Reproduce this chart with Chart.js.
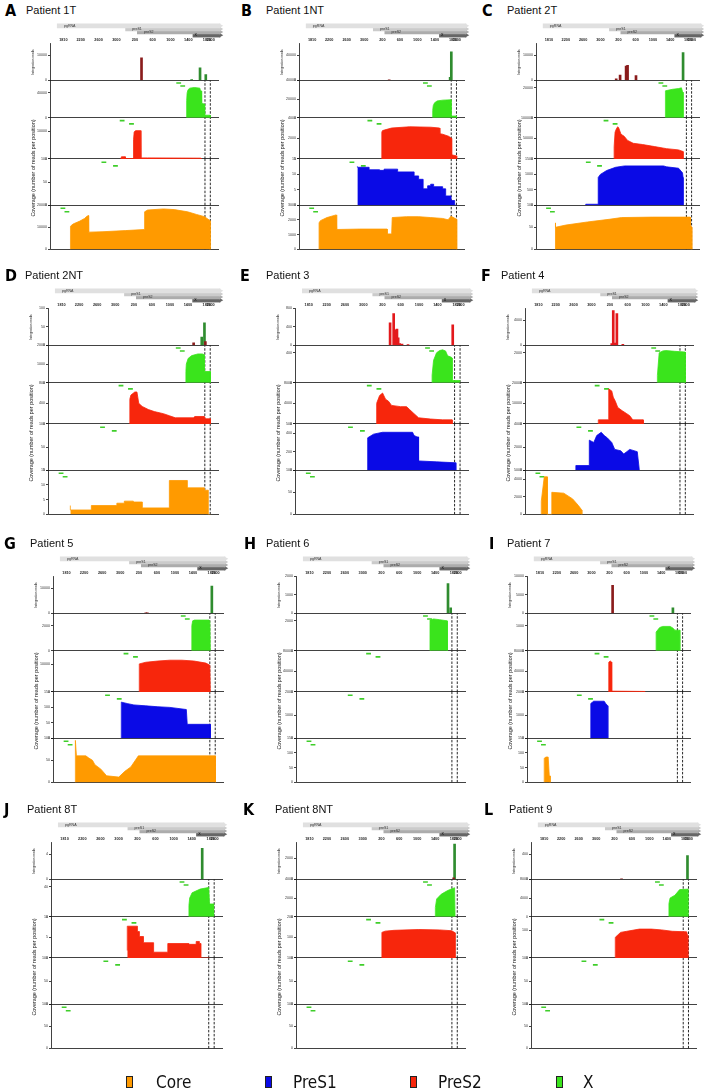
<!DOCTYPE html>
<html>
<head>
<meta charset="utf-8">
<script src="https://cdn.jsdelivr.net/npm/chart.js@4.4.1/dist/chart.umd.min.js"></script>
<style>
  body { margin: 0; background: #fff; width: 709px; height: 1091px; position: relative; overflow: hidden;
         font-family: "Liberation Sans", Arial, sans-serif; }
  .abs { position: absolute; }
  .letter { font-family: "DejaVu Sans Condensed", "Liberation Sans Narrow", sans-serif; font-weight: bold;
            font-size: 16px; line-height: 16px; color: #000; }
  .title { font-size: 11px; line-height: 12px; color: #111; white-space: nowrap; }
  .rot { white-space: nowrap; text-align: center; transform: rotate(-90deg); color: #222; }
  .lgbox { border: 1px solid #222; width: 5px; height: 10px; }
  .lgtext { font-family: "DejaVu Sans Condensed", "Liberation Sans Narrow", sans-serif; font-size: 17px; line-height: 18px; color: #111; }
</style>
</head>
<body>
<script>
// ---- map / axis (positions are nt counted along the map, starting at nt 1700) ----
const tickLabels  = ['1810', '2200', '2600', '3000', '200', '600', '1000', '1400', '1820', '1900'];
const tickOffsets = [110, 500, 900, 1300, 1715, 2115, 2515, 2915, 3335, 3415];
const mapEnd = 3415;
const dashedLines = [3290, 3410];

const headerGenes  = ['pgRNA', 'preS1', 'preS2', 'X'];
const headerStarts = [60, 1475, 1718, 2869];

const primerX     = [2700, 2790];
const primerPreS2 = [1430, 1640];
const primerPreS1 = [1020, 1280];
const primerCore  = [100, 190];

const legendLabels = ['Core', 'PreS1', 'PreS2', 'X'];
const panelLetters = ['A', 'B', 'C', 'D', 'E', 'F', 'G', 'H', 'I', 'J', 'K', 'L'];
const panelTitles  = ['Patient 1T', 'Patient 1NT', 'Patient 2T', 'Patient 2NT', 'Patient 3', 'Patient 4',
                      'Patient 5', 'Patient 6', 'Patient 7', 'Patient 8T', 'Patient 8NT', 'Patient 9'];

// ---- per patient: axis max of [integration, X, PreS2, PreS1, Core], integration bars, coverage [pos, reads] ----
const A_max = [15000, 60000, 15000, 100, 20000];
const A_intS = [[1865, 9000]];
const A_intX = [[2991, 300], [3179, 5000], [3308, 2300]];
const A_x = [[2876, 0], [2878, 28000], [2890, 40000], [2910, 45000], [2950, 47500], [3050, 48500], [3175, 47500], [3185, 44000], [3210, 43000], [3215, 23000], [3280, 22000], [3283, 4000], [3405, 4000], [3406, 0]];
const A_s2 = [[1400, 0], [1414, 800], [1500, 800], [1502, 150], [1684, 150], [1686, 7000], [1700, 9800], [1730, 10300], [1845, 10300], [1852, 400], [2000, 400], [3199, 300], [3200, 0]];
const A_s1 = [];
const A_core = [[269, 0], [270, 10500], [330, 11500], [480, 12800], [586, 14000], [640, 15000], [675, 15300], [678, 7800], [1000, 8000], [1500, 8500], [1933, 9000], [1935, 17000], [2000, 17800], [2358, 18300], [2600, 18000], [2900, 17000], [3100, 15800], [3280, 14800], [3405, 13000], [3406, 0]];

const B_max = [60000, 40000, 4000, 15, 3000];
const B_intS = [[1872, 400]];
const B_intX = [[3265, 5000], [3292, 46000]];
const B_x = [[2865, 0], [2866, 8000], [2880, 13000], [2910, 16000], [2970, 18000], [3100, 18800], [3285, 19200], [3287, 1800], [3409, 1800], [3410, 0]];
const B_s2 = [[1701, 0], [1702, 2600], [1720, 2750], [1800, 2850], [1927, 3000], [2339, 3120], [2818, 3080], [3024, 3000], [3030, 2450], [3093, 2400], [3230, 2200], [3298, 2000], [3300, 400], [3413, 300], [3415, 0]];
const B_s1 = [[1145, 12.6], [1413, 12.3], [1653, 11.5], [1756, 11.3], [2065, 11.7], [2442, 10.8], [2545, 9.5], [2648, 8.4], [2751, 5.3], [2820, 6.3], [2888, 6.8], [3094, 6], [3163, 5.3], [3286, 3], [3368, 1.5], [3415, 0]];
const B_core = [[268, 0], [269, 1800], [300, 1950], [450, 2160], [659, 2340], [672, 1350], [1200, 1380], [1825, 1380], [1826, 1050], [1928, 1050], [1941, 2160], [2271, 2220], [2550, 2220], [2819, 2160], [3094, 2100], [3217, 2010], [3286, 2250], [3414, 2040], [3415, 0]];

const C_max = [15000, 25000, 100000, 1500, 100];
const C_intS = [[1666, 600], [1756, 2100], [1895, 5700], [1929, 6000], [2124, 1950]];
const C_intX = [[3213, 11200]];
const C_x = [[2804, 0], [2805, 18000], [2970, 19000], [3109, 19500], [3175, 20000], [3200, 17500], [3213, 17000], [3214, 0]];
const C_s2 = [[1617, 0], [1618, 30000], [1640, 65000], [1666, 72000], [1700, 78000], [1721, 76000], [1777, 60000], [1850, 55000], [1929, 45000], [2060, 38000], [2276, 35000], [2554, 30000], [2832, 25000], [3110, 22000], [3213, 18000], [3214, 0]];
const C_s1 = [[958, 0], [960, 30], [1249, 30], [1250, 900], [1300, 1000], [1444, 1125], [1652, 1230], [1860, 1275], [2762, 1275], [2832, 1245], [3109, 1200], [3200, 1050], [3213, 900], [3214, 0]];
const C_core = [[250, 0], [251, 60], [265, 60], [268, 50], [500, 55], [1000, 62], [1500, 68], [1790, 72], [2500, 73], [3380, 73], [3385, 55], [3414, 50], [3415, 0]];

const D_max = [100, 2000, 800, 100, 15];
const D_intS = [[3042, 7], [3302, 10]];
const D_intX = [[3222, 22], [3282, 60]];
const D_x = [[2869, 0], [2870, 600], [2880, 1000], [2920, 1300], [3000, 1450], [3135, 1540], [3235, 1540], [3275, 1500], [3277, 600], [3414, 600], [3415, 0]];
const D_s2 = [[1624, 0], [1625, 480], [1650, 560], [1737, 620], [1784, 620], [1824, 400], [1900, 340], [2037, 280], [2170, 240], [2370, 200], [2503, 160], [2636, 120], [3036, 120], [3070, 145], [3282, 145], [3300, 100], [3414, 100], [3415, 0]];
const D_s1 = [];
const D_core = [[306, 3], [772, 1.5], [1338, 3], [1504, 3.8], [1704, 4.5], [1904, 4.2], [2503, 2.2], [2903, 11.5], [3282, 9], [3368, 8.2], [3415, 0]];

const E_max = [800, 500, 8000, 500, 100];
const E_intS = [[1884, 480], [1962, 680], [2008, 335], [2034, 350], [2060, 160], [2093, 40], [2144, 25], [2275, 15], [3250, 440]];
const E_intX = [];
const E_x = [[2799, 0], [2800, 100], [2832, 300], [2897, 400], [2962, 430], [3028, 440], [3093, 425], [3139, 360], [3224, 340], [3236, 330], [3237, 30], [3415, 30], [3416, 0]];
const E_s2 = [[1589, 0], [1590, 4000], [1655, 5500], [1720, 6000], [1785, 4800], [1850, 4400], [1916, 3600], [2112, 3360], [2243, 3360], [2309, 2800], [2407, 2000], [2505, 1200], [2766, 960], [3028, 800], [3237, 800], [3238, 0]];
const E_s1 = [[1393, 0], [1394, 350], [1524, 390], [1720, 410], [2374, 410], [2407, 375], [2472, 360], [2500, 360], [2505, 100], [2897, 90], [3316, 80], [3317, 0]];
const E_core = [];

const F_max = [6000, 2500, 20000, 4000, 5000];
const F_intS = [[1758, 300], [1792, 5600], [1826, 350], [1873, 5100], [2007, 180]];
const F_intX = [];
const F_x = [[2782, 0], [2783, 500], [2823, 2000], [2903, 2125], [2971, 2150], [3173, 2100], [3408, 2050], [3409, 0]];
const F_s2 = [[1455, 0], [1456, 2000], [1690, 2000], [1691, 17000], [1758, 16000], [1792, 13000], [1839, 11000], [1893, 8000], [1994, 6400], [2095, 5000], [2162, 4000], [2230, 2000], [2465, 2000], [2466, 0]];
const F_s1 = [[950, 0], [951, 400], [1253, 400], [1254, 2600], [1354, 2400], [1421, 3000], [1522, 3280], [1589, 3000], [1657, 2800], [1758, 2400], [1825, 1800], [1960, 1680], [2027, 1400], [2095, 1600], [2162, 1800], [2331, 1600], [2378, 0]];
const F_core = [[175, 0], [176, 1500], [243, 4250], [310, 4250], [311, 0], [411, 0], [412, 2500], [680, 2400], [880, 1750], [1010, 1000], [1085, 500], [1086, 0]];

const G_max = [15000, 3000, 15000, 150, 100];
const G_intS = [[1870, 200], [1904, 250]];
const G_intX = [[3335, 11000]];
const G_x = [[2889, 0], [2890, 2000], [2910, 2400], [2950, 2460], [3268, 2460], [3290, 2400], [3302, 0]];
const G_s2 = [[1724, 0], [1725, 10200], [1870, 10800], [2137, 11250], [2403, 11550], [2670, 11550], [2936, 11250], [3202, 10500], [3290, 9750], [3302, 0]];
const G_s1 = [[1325, 0], [1326, 117], [1471, 112], [1604, 108], [1870, 105], [2137, 102], [2403, 100], [2769, 93], [2789, 45], [3302, 45], [3303, 0]];
const G_core = [[306, 0], [307, 95], [330, 60], [539, 60], [606, 55], [686, 50], [740, 40], [872, 30], [999, 15], [1270, 12], [1404, 25], [1537, 35], [1671, 55], [1704, 60], [3414, 60], [3415, 0]];

const H_max = [2000, 2500, 80000, 2000, 150];
const H_intS = [];
const H_intX = [[3203, 1600], [3263, 300]];
const H_x = [[2801, 0], [2802, 2050], [2881, 2125], [3015, 2075], [3183, 2000], [3190, 0]];
const H_s2 = [];
const H_s1 = [];
const H_core = [];

const I_max = [10000, 1500, 80000, 2000, 150];
const I_intS = [[1791, 7500]];
const I_intX = [[3186, 1500]];
const I_x = [[2797, 0], [2798, 750], [2880, 930], [2950, 975], [3123, 975], [3192, 900], [3230, 825], [3345, 825], [3346, 0]];
const I_s2 = [[1700, 0], [1701, 57600], [1735, 60000], [1768, 58000], [1770, 1600], [2533, 1000], [2534, 0]];
const I_s1 = [[1284, 0], [1285, 1500], [1353, 1600], [1596, 1600], [1631, 1500], [1679, 1400], [1680, 0]];
const I_core = [[208, 0], [209, 82], [250, 86], [300, 86], [326, 22], [346, 22], [347, 0]];

const J_max = [6, 50, 10, 100, 100];
const J_intS = [];
const J_intX = [[3146, 5]];
const J_x = [[2852, 0], [2853, 15], [2870, 25], [2923, 32], [3102, 37], [3281, 39], [3290, 38], [3308, 17], [3415, 17], [3416, 0]];
const J_s2 = [[1493, 1.8], [1717, 7.7], [1761, 6.4], [1851, 5.2], [2074, 3.7], [2387, 1.4], [2852, 3.5], [3013, 3.3], [3084, 4], [3120, 3.5], [3308, 0]];
const J_s1 = [];
const J_core = [];

const K_max = [3500, 4000, 200, 100, 100];
const K_intS = [[3330, 150]];
const K_intX = [[3350, 3300]];
const K_x = [[2920, 0], [2921, 1000], [2950, 1900], [3050, 2400], [3194, 2800], [3350, 3100], [3360, 0]];
const K_s2 = [[1726, 0], [1727, 124], [1800, 130], [2001, 134], [2552, 138], [3011, 136], [3287, 132], [3360, 122], [3361, 0]];
const K_s1 = [];
const K_core = [];

const L_max = [600, 8000, 150, 100, 100];
const L_intS = [[1880, 8]];
const L_intX = [[3387, 380]];
const L_x = [[2962, 0], [2963, 2800], [2990, 4000], [3100, 4600], [3208, 5800], [3396, 5900], [3397, 0]];
const L_s2 = [[1736, 0], [1737, 75], [1858, 93], [2000, 97], [2288, 105], [2560, 105], [2800, 102], [3038, 97], [3368, 95], [3390, 82], [3396, 0]];
const L_s1 = [];
const L_core = [];

const panelData = [
  { max: A_max, intS: A_intS, intX: A_intX, tracks: [A_x, A_s2, A_s1, A_core] },
  { max: B_max, intS: B_intS, intX: B_intX, tracks: [B_x, B_s2, B_s1, B_core], stepped: [2] },
  { max: C_max, intS: C_intS, intX: C_intX, tracks: [C_x, C_s2, C_s1, C_core] },
  { max: D_max, intS: D_intS, intX: D_intX, tracks: [D_x, D_s2, D_s1, D_core], stepped: [3] },
  { max: E_max, intS: E_intS, intX: E_intX, tracks: [E_x, E_s2, E_s1, E_core], redBars: true },
  { max: F_max, intS: F_intS, intX: F_intX, tracks: [F_x, F_s2, F_s1, F_core], redBars: true },
  { max: G_max, intS: G_intS, intX: G_intX, tracks: [G_x, G_s2, G_s1, G_core] },
  { max: H_max, intS: H_intS, intX: H_intX, tracks: [H_x, H_s2, H_s1, H_core] },
  { max: I_max, intS: I_intS, intX: I_intX, tracks: [I_x, I_s2, I_s1, I_core] },
  { max: J_max, intS: J_intS, intX: J_intX, tracks: [J_x, J_s2, J_s1, J_core], stepped: [1] },
  { max: K_max, intS: K_intS, intX: K_intX, tracks: [K_x, K_s2, K_s1, K_core] },
  { max: L_max, intS: L_intS, intX: L_intX, tracks: [L_x, L_s2, L_s1, L_core] }
];

// ---- page layout ----
const rowTops = [0, 265, 533, 799];
const layout = [
  { row: 0, L: 50,  R: 219, lx: 5,   tx: 26 },
  { row: 0, L: 299, R: 465, lx: 241, tx: 266 },
  { row: 0, L: 536, R: 700, lx: 482, tx: 507 },
  { row: 1, L: 48,  R: 219, lx: 5,   tx: 25 },
  { row: 1, L: 295, R: 469, lx: 240, tx: 266 },
  { row: 1, L: 525, R: 694, lx: 481, tx: 501 },
  { row: 2, L: 53,  R: 224, lx: 4,   tx: 30 },
  { row: 2, L: 296, R: 466, lx: 244, tx: 266 },
  { row: 2, L: 527, R: 691, lx: 489, tx: 507 },
  { row: 3, L: 51,  R: 223, lx: 4,   tx: 27 },
  { row: 3, L: 296, R: 466, lx: 243, tx: 275 },
  { row: 3, L: 531, R: 697, lx: 484, tx: 509 }
];
const trackWeights = [38, 38, 42, 47, 45];
const trackColors = ['#3ae41c', '#f7260c', '#0a0ae6', '#ff9a00'];
const headerColors = ['#e0e0e0', '#cbcbcb', '#acacac', '#666666'];
const primers = [primerX, primerPreS2, primerPreS1, primerCore];

function pts(arr) { return arr.map(([x, y]) => ({ x: x, y: y })); }

function addDiv(cls, text, css) {
  const d = document.createElement('div');
  d.className = 'abs ' + cls;
  d.textContent = text;
  Object.assign(d.style, css);
  document.body.appendChild(d);
  return d;
}

function addCanvas(left, top, w, h) {
  const c = document.createElement('canvas');
  c.width = w; c.height = h;
  c.className = 'abs';
  Object.assign(c.style, { left: left + 'px', top: top + 'px', width: w + 'px', height: h + 'px' });
  document.body.appendChild(c);
  return c;
}

// gene names written at the start of each header bar
const geneLabelPlugin = {
  id: 'geneLabels',
  afterDatasetsDraw(chart) {
    const ctx = chart.ctx;
    ctx.save();
    ctx.font = '3.6px "Liberation Sans", Arial';
    chart.data.datasets.forEach((ds, i) => {
      const p = chart.getDatasetMeta(i).data[0];
      ctx.fillStyle = i === 3 ? '#000' : '#333';
      ctx.fillText(ds.label, p.x + (i === 3 ? 2 : 7), p.y + 1.2);
    });
    ctx.restore();
  }
};

function makePanel(i) {
  const lay = layout[i];
  const d = panelData[i];
  const top = rowTops[lay.row];
  const L = lay.L, R = lay.R;

  addDiv('letter', panelLetters[i], { left: lay.lx + 'px', top: (top + 3) + 'px' });
  addDiv('title', panelTitles[i], { left: lay.tx + 'px', top: (top + 4) + 'px' });

  // header: transcripts / ORFs
  const hc = addCanvas(L, top + 20, R - L + 14, 21);
  new Chart(hc, {
    type: 'line',
    data: {
      datasets: headerGenes.map((g, k) => ({
        label: g,
        data: [{ x: headerStarts[k], y: 4 - k }, { x: mapEnd + 30, y: 4 - k }],
        borderColor: headerColors[k],
        borderWidth: 4.6,
        borderCapStyle: 'butt',
        pointRadius: [0, 2.8],
        pointStyle: 'triangle',
        rotation: 90,
        pointBackgroundColor: headerColors[k],
        pointBorderWidth: 0,
        clip: false
      }))
    },
    options: {
      responsive: false, animation: false, events: [],
      layout: { padding: { left: 0, right: 14, top: 0, bottom: 0 } },
      plugins: { legend: { display: false }, tooltip: { enabled: false } },
      scales: {
        x: { type: 'linear', display: false, min: 0, max: mapEnd },
        y: { type: 'linear', display: false, min: 0.4, max: 4.6 }
      }
    },
    plugins: [geneLabelPlugin]
  });

  // main chart: integration track + four coverage tracks stacked on one x axis
  const datasets = [];
  datasets.push({
    type: 'bar', data: pts(d.intS), yAxisID: 'y0', grouped: false, barThickness: 2,
    backgroundColor: d.redBars ? '#e3191c' : '#8a1c1c'
  });
  datasets.push({
    type: 'bar', data: pts(d.intX), yAxisID: 'y0', grouped: false, barThickness: 2,
    backgroundColor: '#2f8c2f'
  });
  d.tracks.forEach((arr, t) => {
    const stepped = d.stepped && d.stepped.includes(t);
    datasets.push({
      type: 'line', data: pts(arr), yAxisID: 'y' + (t + 1),
      borderColor: trackColors[t], backgroundColor: trackColors[t], borderWidth: 0.8,
      fill: 'origin', pointRadius: 0, tension: 0, stepped: stepped ? 'after' : false
    });
  });
  d.tracks.forEach((arr, t) => {
    const m = d.max[t + 1];
    dashedLines.forEach(p => {
      datasets.push({
        type: 'line', data: [{ x: p, y: 0 }, { x: p, y: m }], yAxisID: 'y' + (t + 1),
        borderColor: '#111', borderWidth: 0.9, borderDash: [2.5, 1.5], pointRadius: 0, fill: false
      });
    });
    datasets.push({
      type: 'line', showLine: false, yAxisID: 'y' + (t + 1),
      data: [{ x: primers[t][0], y: m * 0.93 }, { x: primers[t][1], y: m * 0.85 }],
      pointStyle: 'line', pointRadius: 2.4, pointBorderWidth: 1.6, pointBorderColor: '#3fce2a', fill: false
    });
  });

  const scales = {
    x: {
      type: 'linear', position: 'top', min: 0, max: mapEnd,
      grid: { display: false, drawTicks: false, tickLength: 0 }, border: { display: false },
      afterBuildTicks: s => { s.ticks = tickOffsets.map(v => ({ value: v })); },
      ticks: {
        font: { size: 3.8, family: 'Liberation Sans', weight: 'bold' }, color: '#222', padding: 1,
        maxRotation: 0, autoSkip: false, callback: (v, idx) => tickLabels[idx]
      },
      afterFit: s => { s.height = 6; }
    }
  };
  for (let k = 0; k < 5; k++) {
    scales['y' + k] = {
      type: 'linear', position: 'left', stack: 'tracks', stackWeight: trackWeights[k], weight: 10 - k,
      min: 0, max: d.max[k],
      border: { display: true, color: '#111', width: 0.8 },
      grid: {
        color: c => (c.tick && c.tick.value === 0) ? '#111' : 'rgba(0,0,0,0)',
        lineWidth: 0.8, tickColor: '#111', tickLength: 2
      },
      ticks: { font: { size: 3.6, family: 'Liberation Sans' }, color: '#333', padding: 1, maxTicksLimit: 5,
               callback: v => v },
      afterFit: s => { s.width = 40; }
    };
  }

  const mc = addCanvas(L - 40, top + 37, R - L + 46, 218);
  new Chart(mc, {
    type: 'line',
    data: { datasets: datasets },
    options: {
      responsive: false, animation: false, events: [],
      layout: { padding: { left: 0, right: 6, top: 0, bottom: 2 } },
      plugins: { legend: { display: false }, tooltip: { enabled: false } },
      scales: scales
    }
  });

  // axis titles
  addDiv('rot', 'Coverage (number of reads per position)', {
    left: (L - 17 - 60) + 'px', top: (top + 168 - 4) + 'px', width: '120px', fontSize: '5.4px', lineHeight: '8px'
  });
  addDiv('rot', 'Integration reads', {
    left: (L - 17 - 20) + 'px', top: (top + 62 - 3) + 'px', width: '40px', fontSize: '3.4px', lineHeight: '6px'
  });
}

for (let i = 0; i < 12; i++) makePanel(i);

// legend
const legendBoxX = [126, 265, 410, 556];
const legendTextX = [156, 293, 438, 583];
legendLabels.forEach((lab, k) => {
  const col = [trackColors[3], trackColors[2], trackColors[1], trackColors[0]][k];
  addDiv('lgbox', '', { left: legendBoxX[k] + 'px', top: '1076px', background: col });
  addDiv('lgtext', lab, { left: legendTextX[k] + 'px', top: '1073px' });
});
</script>
</body>
</html>
